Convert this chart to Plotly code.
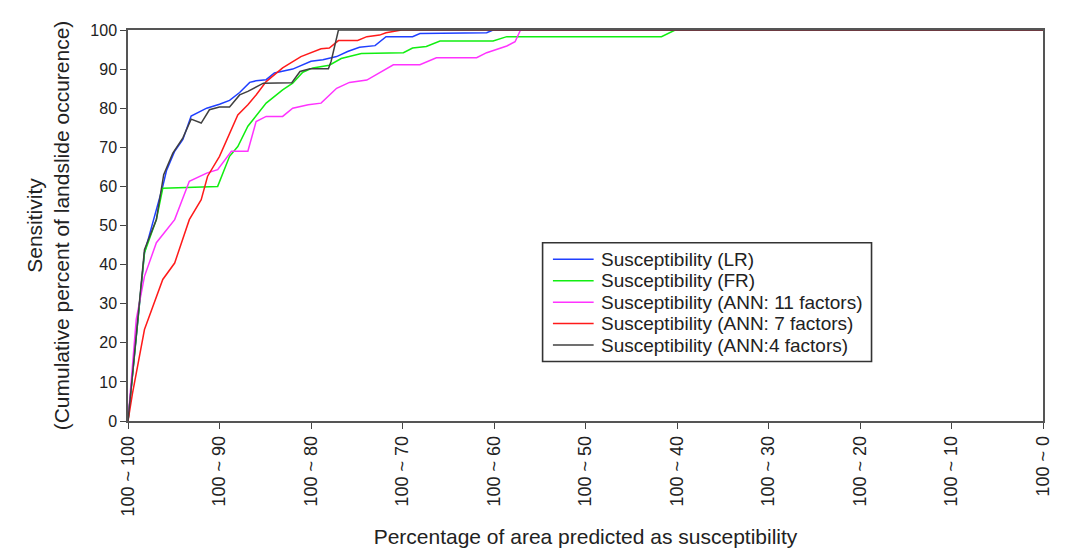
import plotly.graph_objects as go

# ---- data ----
lr_x = [0, 1.8, 3.8, 4.2, 5.1, 6.0, 6.9, 8.6, 10, 11.1, 12.2, 13.3, 14, 15.1, 16, 18, 20, 21.3, 22.8, 24, 25.3, 27, 28.2, 31.1, 31.9, 39.2, 39.9, 100]
lr_y = [0, 43, 60, 64, 69, 72, 78, 80, 81, 82, 84, 86.6, 87, 87.3, 89, 90, 92, 92.4, 93.2, 94.5, 95.6, 96, 98.3, 98.3, 99.1, 99.3, 100, 100]

fr_x = [0, 1.8, 3.1, 3.8, 9.8, 11.1, 12, 13.1, 15.1, 16.9, 18, 19.1, 20.2, 22, 23.3, 25.5, 30.1, 31.1, 32.6, 34.1, 39.9, 41.4, 58.3, 59.8, 100]
fr_y = [0, 43, 51.5, 59.5, 60, 67.7, 70.2, 75.4, 81.3, 84.7, 86.4, 89.2, 90.3, 91, 92.7, 94, 94.2, 95.4, 95.8, 97.2, 97.2, 98.3, 98.3, 100, 100]

ann11_x = [0, 0.9, 1.8, 3.1, 5.1, 6.7, 8.6, 9.8, 11.3, 13.1, 14, 15.1, 16.9, 18, 19.7, 21.1, 22.8, 24.2, 26.1, 29, 31.9, 33.7, 38.1, 39.2, 41.4, 42.3, 42.9, 100]
ann11_y = [0, 26, 37, 45.6, 51.5, 61.3, 63.4, 64.3, 69, 69, 76.6, 77.9, 77.9, 80, 80.9, 81.3, 85.1, 86.6, 87.2, 91.1, 91.1, 92.9, 92.9, 94.2, 95.9, 97, 100, 100]

ann7_x = [0, 0.5, 1.8, 2.9, 3.8, 5.1, 6.7, 8, 8.7, 10, 12, 13.1, 14, 15.1, 16.9, 18.9, 20.2, 21.1, 22, 23, 25.1, 26.1, 27.5, 28.2, 29.9, 100]
ann7_y = [0, 7.2, 23.4, 30.2, 36.2, 40.4, 51.5, 56.6, 62.6, 67.7, 78.3, 80.9, 83.4, 86.8, 90.3, 93.2, 94.5, 95.2, 95.4, 97.3, 97.3, 98.3, 98.7, 99.3, 100, 100]

ann4_x = [0, 1.8, 3.1, 3.9, 4.9, 6, 6.9, 8, 8.9, 10, 11.1, 12.2, 13.1, 14.8, 17.9, 18.8, 19.9, 21.9, 22.2, 23, 100]
ann4_y = [0, 43.8, 51.5, 63, 68.5, 72.4, 77.2, 76.2, 79.6, 80.3, 80.3, 83.4, 84.3, 86.4, 86.5, 89.4, 90.1, 90.1, 92, 100, 100]

x_tick_vals = [0, 10, 20, 30, 40, 50, 60, 70, 80, 90, 100]
x_tick_text = ["100 ~ 100", "100 ~ 90", "100 ~ 80", "100 ~ 70", "100 ~ 60", "100 ~ 50",
               "100 ~ 40", "100 ~ 30", "100 ~ 20", "100 ~ 10", "100 ~ 0"]
y_tick_vals = [0, 10, 20, 30, 40, 50, 60, 70, 80, 90, 100]

series_names = ["Susceptibility (LR)", "Susceptibility (FR)",
                "Susceptibility (ANN: 11 factors)", "Susceptibility (ANN: 7 factors)",
                "Susceptibility (ANN:4 factors)"]
series_x = [lr_x, fr_x, ann11_x, ann7_x, ann4_x]
series_y = [lr_y, fr_y, ann11_y, ann7_y, ann4_y]
series_colors = ["#1f3fff", "#11ee11", "#ff33ff", "#ff1a1a", "#404040"]

FONT = "Liberation Sans, Arial, sans-serif"
TXT = "#222222"

fig = go.Figure()
for name, xs, ys, col in zip(series_names, series_x, series_y, series_colors):
    fig.add_trace(go.Scatter(x=xs, y=ys, mode="lines", name=name, showlegend=False,
                             line=dict(color=col, width=1.5), cliponaxis=False))

# ---- legend box drawn in paper coordinates ----
lg_x0, lg_x1 = 0.4531, 0.8126
lg_y0, lg_y1 = 0.152, 0.4559
row_top = 0.4138      # centre of first row
row_step = 0.0549     # spacing between rows
shapes = [dict(type="rect", xref="paper", yref="paper", x0=lg_x0, x1=lg_x1,
               y0=lg_y0, y1=lg_y1, line=dict(color="#333333", width=1.6),
               fillcolor="white", layer="above")]
annotations = []
for i, (name, col) in enumerate(zip(series_names, series_colors)):
    yy = row_top - i * row_step
    shapes.append(dict(type="line", xref="paper", yref="paper", x0=0.4644, x1=0.5089,
                       y0=yy, y1=yy, line=dict(color=col, width=1.5), layer="above"))
    annotations.append(dict(xref="paper", yref="paper", x=0.5145, y=yy, text=name,
                            showarrow=False, xanchor="left", yanchor="middle",
                            font=dict(family=FONT, size=19, color=TXT)))

fig.update_layout(
    width=1063, height=542,
    margin=dict(l=120, r=27.5, t=22, b=128.5),
    paper_bgcolor="white", plot_bgcolor="white",
    font=dict(family=FONT, size=16, color=TXT),
    showlegend=False,
    shapes=shapes, annotations=annotations,
)
fig.update_xaxes(
    range=[0, 100], tickmode="array", tickvals=x_tick_vals, ticktext=x_tick_text,
    tickangle=-90, ticks="outside", ticklen=6, tickcolor="#444", tickwidth=1.3,
    showline=True, mirror=True, linecolor="#555", linewidth=1.5, showgrid=False, zeroline=False,
    tickfont=dict(family=FONT, size=18, color=TXT), automargin=False,
    title=dict(text="Percentage of area predicted as susceptibility",
               font=dict(family=FONT, size=21, color=TXT), standoff=14),
)
fig.update_yaxes(
    range=[0, 100], tickmode="array", tickvals=y_tick_vals,
    ticks="outside", ticklen=6, tickcolor="#444", tickwidth=1.3,
    showline=True, mirror=True, linecolor="#555", linewidth=1.5, showgrid=False, zeroline=False,
    tickfont=dict(family=FONT, size=16, color=TXT), automargin=False,
    title=dict(text="Sensitivity<br>(Cumulative percent of landslide occurence)",
               font=dict(family=FONT, size=21, color=TXT), standoff=15),
)

fig.write_html("out.html")
